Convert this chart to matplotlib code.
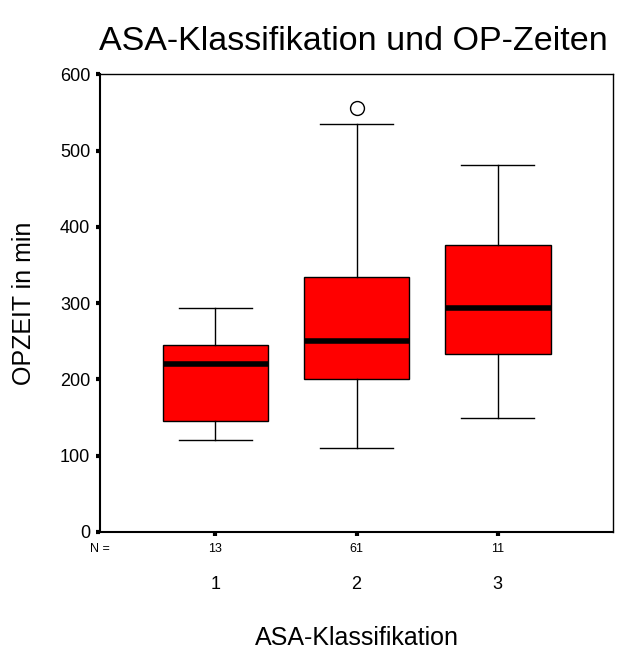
import matplotlib
matplotlib.use("Agg")
from matplotlib import pyplot as plt

plt.rcParams['font.family'] = ['Liberation Sans', 'DejaVu Sans']

# ASA class -> OP time (minutes), five-number summaries per group
groups = ['1', '2', '3']
counts = [13, 61, 11]
q1 = [145, 201, 234]
medians = [220, 250, 294]
q3 = [245, 334, 376]
whisker_low = [120, 110, 150]
whisker_high = [294, 535, 481]
outliers = [[], [556], []]

stats = []
for i in range(len(groups)):
    stats.append({'label': groups[i], 'q1': q1[i], 'med': medians[i], 'q3': q3[i],
                  'whislo': whisker_low[i], 'whishi': whisker_high[i], 'fliers': outliers[i]})

fig = plt.figure(figsize=(6.22, 6.51), dpi=100, facecolor='white')
ax = fig.add_axes([0.1608, 0.1828, 0.8248, 0.7028])

positions = [1, 2, 3]
ax.bxp(stats, positions=positions, widths=0.75, patch_artist=True,
       boxprops=dict(facecolor='#ff0000', edgecolor='black', linewidth=1.0),
       medianprops=dict(color='black', linewidth=4.0, solid_capstyle='butt'),
       whiskerprops=dict(color='black', linewidth=1.0),
       capprops=dict(color='black', linewidth=1.0),
       capwidths=0.52,
       flierprops=dict(marker='o', markersize=10, markerfacecolor='white',
                       markeredgecolor='black', markeredgewidth=1.0))

ax.set_xlim(0.182, 3.818)
ax.set_ylim(0, 600)
ax.set_yticks(range(0, 601, 100))
ax.set_xticks(positions)
ax.set_xticklabels(groups)

for side in ['left', 'bottom']:
    ax.spines[side].set_linewidth(1.5)
for side in ['top', 'right']:
    ax.spines[side].set_linewidth(1.0)

ax.tick_params(axis='y', direction='out', length=3, width=3, labelsize=13, pad=4)
ax.tick_params(axis='x', direction='out', length=3, width=3, labelsize=13, pad=29)

# group sizes under the axis
ax.annotate('N =', xy=(0, 0), xycoords='axes fraction', xytext=(0, -12),
            textcoords='offset points', ha='center', va='center', fontsize=9)
for pos, n in zip(positions, counts):
    ax.annotate(str(n), xy=(pos, 0), xycoords=('data', 'axes fraction'), xytext=(0, -12),
                textcoords='offset points', ha='center', va='center', fontsize=9)

ax.set_ylabel('OPZEIT in min', fontsize=18, va='center')
ax.yaxis.set_label_coords(-0.148, 0.5)
ax.set_xlabel('ASA-Klassifikation', fontsize=18, va='center')
ax.xaxis.set_label_coords(0.5, -0.232)

ax.text(0.494, 1.072, 'ASA-Klassifikation und OP-Zeiten', transform=ax.transAxes,
        ha='center', va='center', fontsize=24.5)

fig.savefig('out.png', dpi=100, facecolor='white')
